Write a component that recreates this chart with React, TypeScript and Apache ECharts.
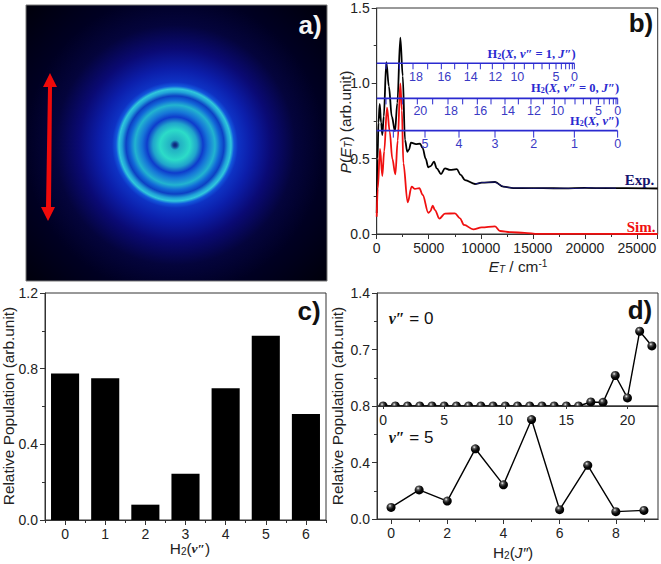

import React, { useEffect, useRef } from "react";
import * as echarts from "echarts";

const expE = [0, 80, 170, 290, 420, 540, 680, 925, 1170, 1450, 1760, 1980, 2270, 2500, 2720, 2940, 3100, 3296, 3776, 4160, 4420, 4700, 4960, 5190, 5506, 5765, 6180, 6560, 7040, 7690, 8070, 8485, 9446, 10090, 11370, 12170, 13130, 14000, 16000, 18000, 20000, 22000, 24000, 27000];
const expV = [0.14, 0.5, 0.74, 0.863, 0.74, 0.657, 0.78, 1.14, 0.98, 0.78, 0.683, 0.87, 1.303, 1.05, 0.624, 0.546, 0.56, 0.606, 0.597, 0.6, 0.57, 0.5, 0.443, 0.451, 0.48, 0.436, 0.398, 0.436, 0.425, 0.431, 0.392, 0.358, 0.332, 0.341, 0.345, 0.314, 0.305, 0.305, 0.304, 0.303, 0.306, 0.304, 0.305, 0.302];
const tailE = [9446, 10090, 11370, 12170, 13130, 14000, 15000, 16000, 17000, 18000, 19000, 20000, 20300, 21000, 22000, 23000];
const tailV = [0.332, 0.341, 0.345, 0.314, 0.305, 0.306, 0.303, 0.305, 0.303, 0.304, 0.302, 0.305, 0.308, 0.304, 0.306, 0.304];
const simE = [0, 100, 320, 540, 720, 990, 1250, 1500, 1790, 2020, 2270, 2420, 2560, 2975, 3360, 3680, 4095, 4420, 4960, 5150, 5380, 5600, 6020, 6560, 7520, 8000, 8390, 9280, 10090, 11370, 11850, 12900, 14200, 15500, 27000];
const simV = [0.115, 0.3, 0.564, 0.385, 0.55, 0.838, 0.68, 0.5, 0.396, 0.62, 1.0, 0.82, 0.47, 0.21, 0.314, 0.299, 0.305, 0.259, 0.141, 0.15, 0.188, 0.159, 0.102, 0.135, 0.137, 0.104, 0.06, 0.031, 0.044, 0.051, 0.02, 0.012, 0.008, 0.001, 0.0];

const scaleLevelJ1 = 1.133;
const scaleLevelJ0 = 0.9;
const scaleLevelV = 0.686;
const ticksJ1 = [18991, 18799, 18511, 18158, 17742, 17229, 16589, 15884, 15083, 14186, 13225, 12201, 11111, 9959, 8741, 7492, 6211, 4898, 3489, 2175, 894];
const ticksJ0 = [23155, 22995, 22739, 22354, 21842, 21297, 20561, 19856, 19055, 18094, 17069, 16012, 14827, 13610, 12329, 10983, 9670, 8261, 6852, 5378, 3905, 2496, 894];
const ticksV = [23150, 18991, 15083, 11368, 7909, 4642, 1599];
const shownJ1 = [0, 5, 10, 12, 14, 16, 18];
const shownJ0 = [0, 5, 10, 12, 14, 16, 18, 20];
const shownV = [0, 1, 2, 3, 4, 5];

const vibLevels = ["0", "1", "2", "3", "4", "5", "6"];
const vibPop = [0.774, 0.749, 0.081, 0.245, 0.696, 0.974, 0.56];

const v0J = [0, 1, 2, 3, 4, 5, 6, 7, 8, 9, 10, 11, 12, 13, 14, 15, 16, 17, 18, 19, 20, 21, 22];
const v0Pop = [0, 0, 0, 0, 0, 0, 0, 0, 0, 0, 0, 0, 0, 0, 0, 0, 0, 0.05, 0.045, 0.378, 0.1, 0.926, 0.744];
const v5J = [0, 1, 2, 3, 4, 5, 6, 7, 8, 9];
const v5Pop = [0.082, 0.206, 0.127, 0.497, 0.242, 0.704, 0.066, 0.38, 0.052, 0.061];

const SANS = "Liberation Sans";
const SERIF = "Liberation Serif";
const INK = "#333";
const BLUE = "#2a2ad0";
const NAVY = "#14146e";

const zip = (a: number[], b: number[]) => a.map((x, i) => [x, b[i]]);

const sphere = {
  type: "radial", x: 0.38, y: 0.32, r: 0.62,
  colorStops: [
    { offset: 0, color: "#f0f0f0" },
    { offset: 0.28, color: "#555" },
    { offset: 0.65, color: "#0c0c0c" },
    { offset: 1, color: "#000" },
  ],
};

const labelStyle = { fontFamily: SANS, fontSize: 14, color: "#222" };
const axisLine = { show: true, onZero: false, lineStyle: { color: INK, width: 1 } };
const majorTick = { show: true, length: 5, lineStyle: { color: INK } };
const minorTick = { show: true, length: 3, splitNumber: 2, lineStyle: { color: INK } };

function valueY(gridIndex: number, max: number, interval: number, hideMin = false) {
  return {
    type: "value", gridIndex, min: 0, max, interval,
    axisLine, axisTick: majorTick, minorTick, splitLine: { show: false }, minorSplitLine: { show: false },
    axisLabel: {
      ...labelStyle, margin: 7, showMinLabel: !hideMin,
      formatter: (v: number) => v.toFixed(1),
    },
  };
}

function scaleSeries(level: number, ticks: number[], shown: number[], tickLen: number, labelDy: number, nudge: boolean) {
  return {
    type: "custom", xAxisIndex: 0, yAxisIndex: 0, z: 6, silent: true, clip: false,
    data: ticks.map((e, i) => [e, level, i]),
    renderItem: (_: any, api: any) => {
      const p = api.coord([api.value(0), api.value(1)]);
      const idx = api.value(2);
      const children: any[] = [
        { type: "line", shape: { x1: p[0], y1: p[1], x2: p[0], y2: p[1] + tickLen }, style: { stroke: BLUE, lineWidth: 1 } },
      ];
      if (shown.includes(idx)) {
        children.push({
          type: "text", x: p[0] + (nudge && idx >= 10 ? 3 : 0), y: p[1] + labelDy,
          style: { text: String(idx), fill: "#3a3ac4", font: `12.5px "${SANS}"`, textAlign: "center", textVerticalAlign: "middle" },
        });
      }
      return { type: "group", children };
    },
  };
}

function scaleLine(level: number, end: number) {
  return {
    type: "line", xAxisIndex: 0, yAxisIndex: 0, z: 5, symbol: "none", silent: true,
    data: [[0, level], [end, level]],
    lineStyle: { color: BLUE, width: 1.6 },
  };
}

const scaleRich = {
  b: { font: `bold 12.5px "${SERIF}"`, fill: BLUE, color: BLUE },
  i: { font: `italic bold 12.5px "${SERIF}"`, fill: BLUE, color: BLUE },
  s: { font: `bold 8px "${SERIF}"`, fill: BLUE, color: BLUE, verticalAlign: "bottom", padding: [5, 0, 0, 0] },
};

const nameRich = {
  n: { font: `15.4px "${SANS}"`, fill: "#222" },
  i: { font: `italic 15.4px "${SANS}"`, fill: "#222" },
  s: { font: `10px "${SANS}"`, fill: "#222", verticalAlign: "bottom", padding: [6, 0, 0, 0] },
  si: { font: `italic 10px "${SANS}"`, fill: "#222", verticalAlign: "bottom", padding: [6, 0, 0, 0] },
  u: { font: `10px "${SANS}"`, fill: "#222", verticalAlign: "top", padding: [0, 0, 6, 0] },
  v: { font: `italic bold 13.5px "${SERIF}"`, fill: "#222" },
};

const txt = (x: number, y: number, text: string, extra: any = {}, rotation = 0) => ({
  type: "text", x, y, rotation, z: 20, silent: true,
  style: { text, align: "center", verticalAlign: "middle", textAlign: "center", textVerticalAlign: "middle", ...extra },
});

const panelTag = (x: number, y: number, text: string, fill = "#111") =>
  txt(x, y, text, { font: `bold 26px "${SANS}"`, fill });

const imageStops = [
  [0, "#0a2468"], [2, "#123a90"], [5, "#22b0c4"], [15, "#2cdcc8"], [22, "#20a4cc"], [28, "#0e3ccc"],
  [33, "#1674d8"], [40, "#22b4d0"], [45, "#1268d8"], [49, "#0c40c4"], [53, "#20a0d8"], [56, "#30c8dc"],
  [59, "#1258dc"], [63, "#0e32c4"], [76, "#0c1eaa"], [96, "#0a0a74"], [120, "#04043c"], [150, "#000022"], [200, "#00000c"],
];

function buildOption() {
  return {
    animation: false,
    backgroundColor: "#fff",
    grid: [
      { left: 376.7, top: 8, width: 281, height: 226, show: true, borderColor: INK, borderWidth: 1 },
      { left: 45, top: 293, width: 281, height: 227, show: true, borderColor: INK, borderWidth: 1 },
      { left: 377, top: 293, width: 281, height: 113, show: true, borderColor: INK, borderWidth: 1 },
      { left: 377, top: 406, width: 281, height: 113, show: true, borderColor: INK, borderWidth: 1 },
    ],
    xAxis: [
      {
        type: "value", gridIndex: 0, min: 0, max: 27000, interval: 5000,
        axisLine, axisTick: majorTick, minorTick, splitLine: { show: false },
        axisLabel: { ...labelStyle, margin: 7, showMaxLabel: false, formatter: (v: number) => String(v) },
      },
      {
        type: "category", gridIndex: 1, data: vibLevels, axisLine,
        axisTick: { ...majorTick, alignWithLabel: true }, axisLabel: { ...labelStyle, margin: 7 },
      },
      {
        type: "category", gridIndex: 1, position: "bottom", data: vibLevels, axisLine,
        axisTick: { show: true, length: 3, lineStyle: { color: INK } }, axisLabel: { show: false },
      },
      {
        type: "value", gridIndex: 2, min: -0.5, max: 22.5, axisLine, z: 30,
        axisTick: { show: true, length: 3, customValues: [0, 5, 10, 15, 20], lineStyle: { color: INK } },
        axisLabel: { ...labelStyle, margin: 7, customValues: [0, 5, 10, 15, 20] }, splitLine: { show: false },
      },
      {
        type: "value", gridIndex: 3, min: -0.5, max: 9.5, axisLine,
        axisTick: { ...majorTick, customValues: [0, 2, 4, 6, 8] },
        axisLabel: { ...labelStyle, margin: 7, customValues: [0, 2, 4, 6, 8] }, splitLine: { show: false },
      },
      {
        type: "value", gridIndex: 3, position: "bottom", min: -0.5, max: 9.5, axisLine,
        axisTick: { show: true, length: 3, customValues: [1, 3, 5, 7, 9], lineStyle: { color: INK } },
        axisLabel: { show: false }, splitLine: { show: false },
      },
    ],
    yAxis: [
      valueY(0, 1.5, 0.5),
      valueY(1, 1.2, 0.4),
      valueY(2, 1.4, 0.7, true),
      valueY(3, 0.8, 0.4),
    ],
    series: [
      {
        name: "Exp.", type: "line", xAxisIndex: 0, yAxisIndex: 0, z: 3, symbol: "none", smooth: 0.35, smoothMonotone: "x",
        data: zip(expE, expV), lineStyle: { color: "#000", width: 1.8 },
      },
      {
        name: "Exp. tail", type: "line", xAxisIndex: 0, yAxisIndex: 0, z: 4, symbol: "none",
        data: zip(tailE, tailV), lineStyle: { color: "#1a1a90", width: 0.8 },
      },
      {
        name: "Sim.", type: "line", xAxisIndex: 0, yAxisIndex: 0, z: 3, symbol: "none", smooth: 0.35, smoothMonotone: "x",
        data: zip(simE, simV), lineStyle: { color: "#f01010", width: 1.8 },
      },
      scaleLine(scaleLevelJ1, ticksJ1[0]),
      scaleLine(scaleLevelJ0, ticksJ0[0]),
      scaleLine(scaleLevelV, ticksV[0]),
      scaleSeries(scaleLevelJ1, ticksJ1, shownJ1, 6, 14, true),
      scaleSeries(scaleLevelJ0, ticksJ0, shownJ0, 6, 13, true),
      scaleSeries(scaleLevelV, ticksV, shownV, 7, 13, false),
      {
        type: "bar", xAxisIndex: 1, yAxisIndex: 1, data: vibPop, barWidth: "70%",
        itemStyle: { color: "#000" },
      },
      {
        type: "line", xAxisIndex: 3, yAxisIndex: 2, data: zip(v0J, v0Pop), symbol: "circle", symbolSize: 9, clip: true,
        lineStyle: { color: "#000", width: 1.4 }, itemStyle: { color: sphere },
      },
      {
        type: "line", xAxisIndex: 4, yAxisIndex: 3, data: zip(v5J, v5Pop), symbol: "circle", symbolSize: 9, clip: false,
        lineStyle: { color: "#000", width: 1.4 }, itemStyle: { color: sphere },
      },
    ],
    graphic: {
      elements: [
        {
          type: "rect", z: 1, silent: true,
          shape: { x: 26, y: 5, width: 301, height: 276 },
          style: {
            stroke: "#777", lineWidth: 1,
            fill: new echarts.graphic.RadialGradient(175, 145, 200,
              imageStops.map(([r, color]) => ({ offset: (r as number) / 200, color: color as string })), true),
          },
        },
        { type: "rect", z: 10, silent: true, shape: { x: 378, y: 407, width: 279, height: 5 }, style: { fill: "#fff" } },
        { type: "polygon", z: 2, silent: true, style: { fill: "#f00a0a" },
          shape: { points: [[50, 73], [57, 87], [52, 87], [51, 207], [55, 207], [48, 221], [41, 207], [46, 207], [48, 87], [43, 87]] } },
        panelTag(310, 25, "a)", "#f4f4f4"),
        panelTag(641, 23, "b)"),
        panelTag(309, 311, "c)"),
        panelTag(640, 310, "d)"),
        txt(531.5, 54, "{b|H}{s|2}{b|(}{i|X, v″}{b| = 1, }{i|J″}{b|)}", { rich: scaleRich }),
        txt(575, 88, "{b|H}{s|2}{b|(}{i|X, v″}{b| = 0, }{i|J″}{b|)}", { rich: scaleRich }),
        txt(594.5, 121, "{b|H}{s|2}{b|(}{i|X, v″}{b|)}", { rich: scaleRich }),
        txt(639.5, 180, "Exp.", { font: `bold 15px "${SERIF}"`, fill: NAVY }),
        txt(641, 227, "Sim.", { font: `bold 15px "${SERIF}"`, fill: "#f01010" }),
        txt(518, 266, "{i|E}{si|T}{n| / cm}{u|-1}", { rich: nameRich }),
        txt(345, 122, "{i|P}{n|(}{i|E}{si|T}{n|) (arb.unit)}", { rich: nameRich }, Math.PI / 2),
        txt(8, 406, "{n|Relative Population (arb.unit)}", { rich: nameRich }, Math.PI / 2),
        txt(337, 406, "{n|Relative Population (arb.unit)}", { rich: nameRich }, Math.PI / 2),
        txt(190, 548, "{n|H}{s|2}{n|(}{v|v″}{n|)}", { rich: nameRich }),
        txt(513, 552, "{n|H}{s|2}{n|(}{i|J″}{n|)}", { rich: nameRich }),
        txt(411, 318, "{v|v″}{e| = 0}", { rich: { v: { font: `italic bold 16px "${SERIF}"`, fill: "#111" }, e: { font: `17px "${SANS}"`, fill: "#111" } } }),
        txt(411, 437, "{v|v″}{e| = 5}", { rich: { v: { font: `italic bold 16px "${SERIF}"`, fill: "#111" }, e: { font: `17px "${SANS}"`, fill: "#111" } } }),
      ],
    },
  };
}

export default function App() {
  const ref = useRef<HTMLDivElement>(null);
  useEffect(() => {
    const chart = echarts.init(ref.current!, undefined, { renderer: "svg" });
    chart.setOption(buildOption() as any);
    return () => chart.dispose();
  }, []);
  return <div ref={ref} style={{ position: "absolute", left: 0, top: 0, width: 661, height: 564 }} />;
}
